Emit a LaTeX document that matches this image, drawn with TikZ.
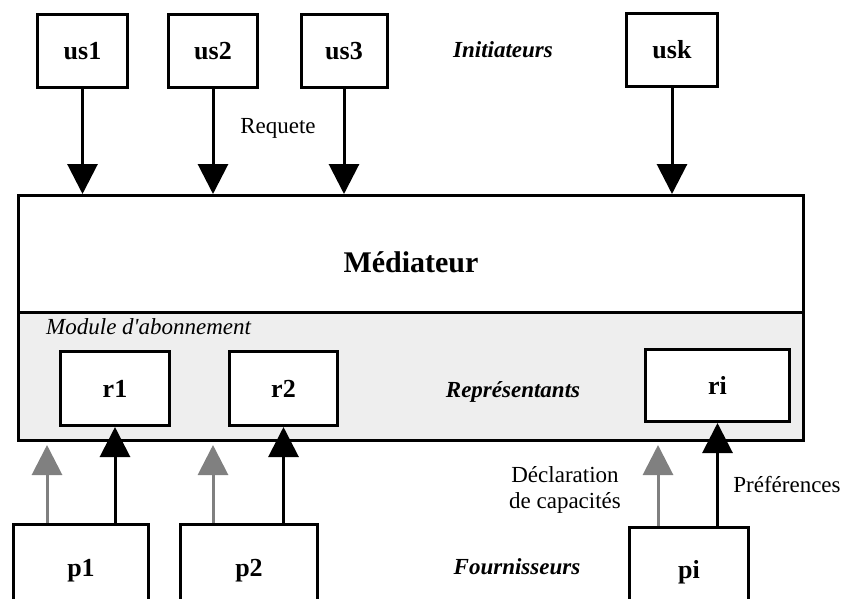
\documentclass[tikz,border=0pt]{standalone}
\usepackage{fontspec}
\setmainfont{Liberation Serif}
\usetikzlibrary{arrows.meta}
\definecolor{modgray}{HTML}{EEEEEE}
\definecolor{arrgray}{HTML}{808080}
\begin{document}
\begin{tikzpicture}[x=1pt,y=-1pt,
 box/.style={draw,line width=3pt,fill=white,inner sep=0pt,font=\fontsize{26}{30}\selectfont\bfseries},
 blackarrow/.style={line width=3pt,-{Triangle[width=30pt,length=30pt]}},
 grayarrow/.style={draw=arrgray,line width=3pt,-{Triangle[width=30pt,length=30pt]},fill=arrgray},
 txt/.style={font=\fontsize{23}{26}\selectfont,inner sep=0pt},
 emtxt/.style={font=\fontsize{23}{26}\selectfont\bfseries\itshape,inner sep=0pt}]
\useasboundingbox (0,0) rectangle (843,598);
\clip (0,0) rectangle (843,598);
% mediator
\node[draw,line width=3pt,inner sep=0pt,minimum width=785pt,minimum height=116.5pt] (med) at (411,253.75) {};
\node[draw,line width=3pt,fill=modgray,inner sep=0pt,minimum width=785pt,minimum height=128.5pt] (mod) at (411,376.25) {};
\node[inner sep=0pt,font=\fontsize{30}{34}\selectfont\bfseries] (medlab) at (411,262) {Médiateur};
\node[txt,font=\fontsize{23}{26}\selectfont\itshape,anchor=west] (modlab) at (46,327) {Module d\textquotesingle abonnement};
% initiators
\node[box,minimum width=90pt,minimum height=73pt] (us1) at (82.5,51) {us1};
\node[box,minimum width=89pt,minimum height=73pt] (us2) at (213,51) {us2};
\node[box,minimum width=86pt,minimum height=73pt] (us3) at (344,51) {us3};
\node[box,minimum width=91pt,minimum height=73pt] (usk) at (672,50) {usk};
\node[emtxt] (init) at (503,50) {Initiateurs};
\node[txt] (req) at (278,128) {Requete};
\foreach \u in {us1,us2,us3,usk}
  \draw[blackarrow] (\u.south) -- (\u.south |- med.north);
% representatives
\node[box,minimum width=109pt,minimum height=74pt] (r1) at (115,388.5) {r1};
\node[box,minimum width=108pt,minimum height=74pt] (r2) at (283.5,388.5) {r2};
\node[box,minimum width=144pt,minimum height=72pt] (ri) at (717.5,385.5) {ri};
\node[emtxt] (rep) at (513,392) {Représentants};
% providers
\node[box,minimum width=135pt,minimum height=91.5pt] (p1) at (81,570.25) {p1};
\node[box,minimum width=137pt,minimum height=91.5pt] (p2) at (249,570.25) {p2};
\node[box,minimum width=119pt,minimum height=88.5pt] (pi) at (689,571.75) {pi};
\node[emtxt] (four) at (517,567) {Fournisseurs};
% arrows from providers
\coordinate (g1) at (47,445);
\coordinate (g2) at (213,445);
\coordinate (gi) at (658,445);
\draw[grayarrow] (p1.north -| g1) -- (g1);
\draw[grayarrow] (p2.north -| g2) -- (g2);
\draw[grayarrow] (pi.north -| gi) -- (gi);
\draw[blackarrow] (p1.north -| r1.south) -- (r1.south);
\draw[blackarrow] (p2.north -| r2.south) -- (r2.south);
\draw[blackarrow] (pi.north -| ri.south) -- (ri.south);
\node[txt,align=center] (decl) at (565,490) {Déclaration\\de capacités};
\node[txt] (pref) at (787,485) {Préférences};
\end{tikzpicture}
\end{document}
